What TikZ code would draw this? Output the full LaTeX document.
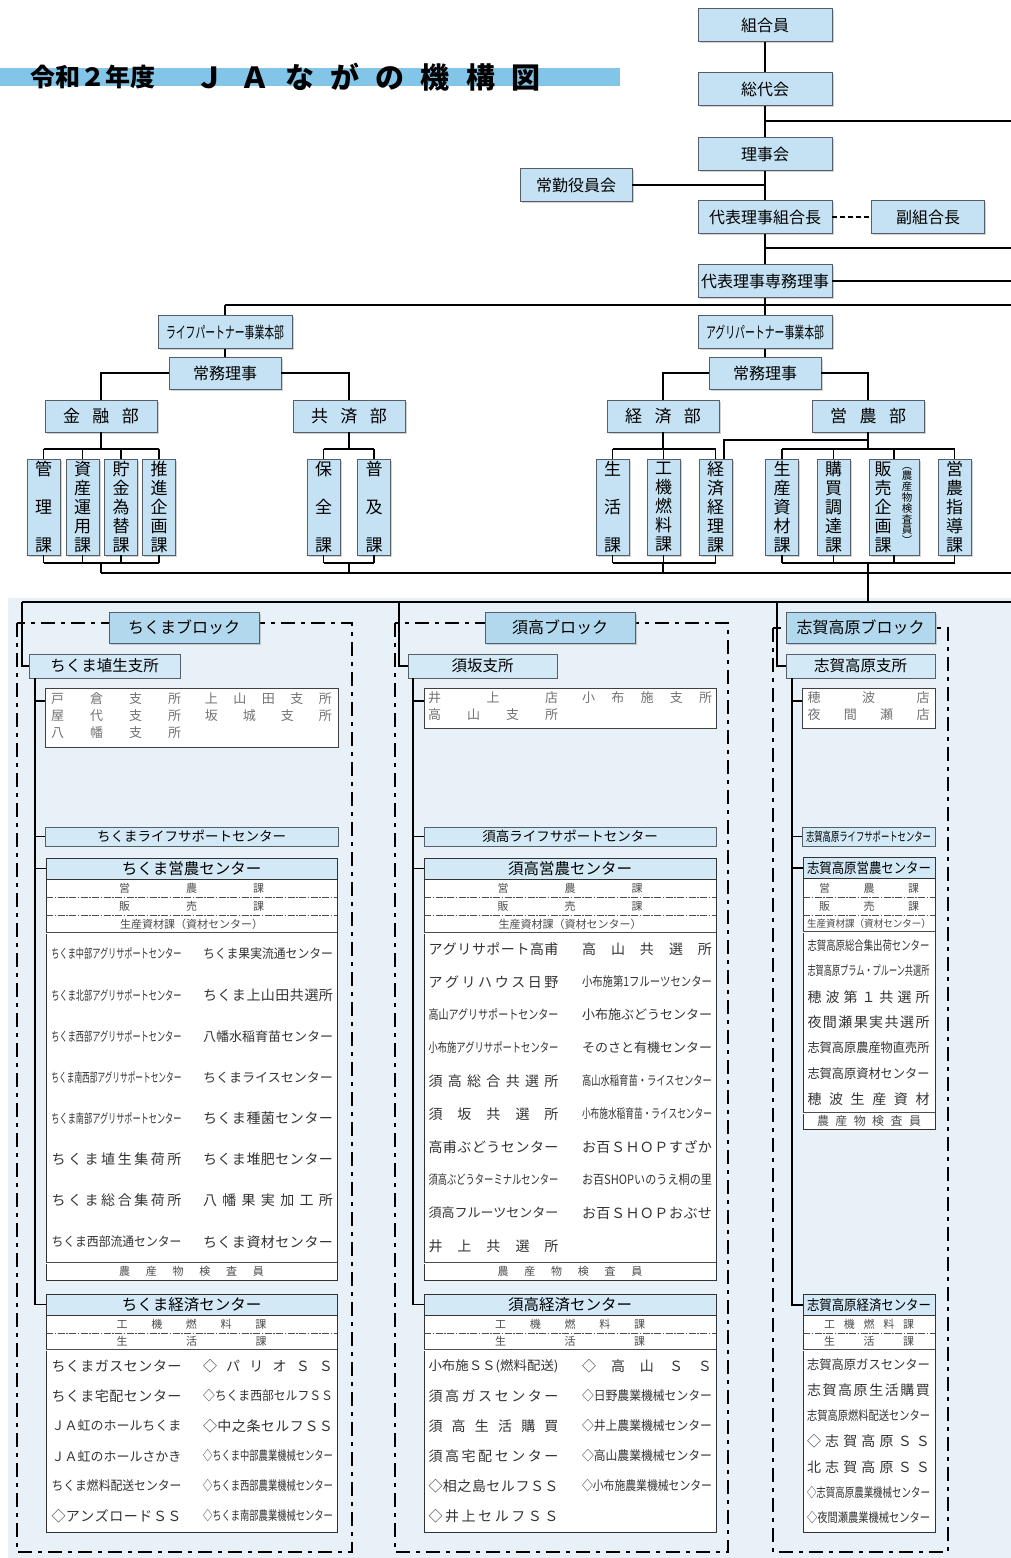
\documentclass[tikz,border=0pt]{standalone}
\usepackage{fontspec}
\setmainfont{Noto Sans CJK JP}
\usepackage{graphicx}
\usetikzlibrary{positioning,shadows}

\definecolor{boxblue}{RGB}{196,226,243}
\definecolor{tagblue}{RGB}{178,216,238}
\definecolor{paleblue}{RGB}{211,233,246}
\definecolor{bgblue}{RGB}{232,241,248}
\definecolor{bandblue}{RGB}{130,197,232}
\definecolor{edge}{RGB}{85,95,105}

% text set to a fixed width: spread out if short, squeezed if long
\makeatletter
\newsavebox\fitbox
\newcommand\fitw[3][0.92]{\edef\fit@txt{#3}\def\fit@v{#1}%
  \ifx\fit@txt\@empty\else\expandafter\fit@do\expandafter{\fit@txt}{#2}\fi}
\newcommand\fit@do[2]{\sbox\fitbox{#1}%
  \ifdim\wd\fitbox>#2pt\relax\resizebox{#2pt}{\fit@v\height}{#1}%
  \else\makebox[#2pt][s]{\fit@spread#1\@nil}\fi}
\def\fit@spread#1#2\@nil{#1\ifx\relax#2\relax\else\hfil\fit@spread#2\@nil\fi}
\makeatother

\tikzset{
  link/.style={line width=1.8pt},
  bar/.style={line width=2.6pt},
  topbox/.style={draw=edge,fill=boxblue,line width=.8pt,minimum width=134,minimum height=33,inner sep=0,
    font=\fontsize{16}{16}\selectfont,drop shadow={shadow xshift=1.5pt,shadow yshift=-1.5pt,opacity=.35}},
  bubox/.style={topbox,minimum width=112,minimum height=32,font=\fontsize{17}{17}\selectfont},
  kabox/.style={topbox,minimum width=33,minimum height=96,align=center,font=\fontsize{17}{19}\selectfont},
  kabox3/.style={kabox,font=\fontsize{17}{38}\selectfont},
  blk/.style={line width=2.2pt,dash pattern=on 14pt off 6pt on 4pt off 6pt},
  blocktag/.style={topbox,fill=tagblue,minimum width=150,minimum height=31},
  shisho/.style={draw=edge,fill=paleblue,line width=.8pt,minimum height=24,inner sep=0,font=\fontsize{15.5}{15.5}\selectfont},
  branch/.style={draw=black!75,fill=white,line width=1pt,inner sep=0,text=black!55,font=\fontsize{13}{17}\selectfont},
  life/.style={draw=edge,fill=paleblue,line width=.8pt,minimum height=19,inner sep=0,font=\fontsize{13.5}{13.5}\selectfont},
  centre/.style={draw=black!80,fill=white,line width=1pt,inner sep=0},
  chead/.style={draw=black!80,fill=paleblue,line width=1pt,minimum height=21,inner sep=0,font=\fontsize{15.5}{15.5}\selectfont},
  crow/.style={inner sep=0,text=black!70,font=\fontsize{11}{11}\selectfont},
  item/.style={inner sep=0,text=black!80,font=\fontsize{14}{14}\selectfont},
  sepa/.style={draw=black!70,line width=.8pt,dash pattern=on 7pt off 1.5pt on 1.5pt off 1.5pt},
  sepb/.style={draw=black!70,line width=.6pt,double=white,double distance=.9pt},
}

\begin{document}
\begin{tikzpicture}[x=1pt,y=-1pt]
\useasboundingbox (0,0) rectangle (1011,1558);
\fill[white] (0,0) rectangle (1011,1558);
\fill[bgblue] (8,598) rectangle (1011,1558); % block area
\coordinate (redge) at (1011,0);

% title
\fill[bandblue] (0,68) rectangle (620,86);
\node[anchor=west,inner sep=0,font=\fontsize{25}{25}\selectfont\bfseries] (titleA) at (30,77) {令和２年度};
\node[anchor=west,inner sep=0,font=\fontsize{29}{29}\selectfont\bfseries] (titleB) at (195,77) {\fitw[1]{345}{ＪＡながの機構図}};

% top of the chart
\node[topbox] (kumiai) at (765,25) {組合員};
\node[topbox] (sodai) at (765,89) {総代会};
\node[topbox] (rijikai) at (765,154) {理事会};
\node[topbox] (kumiaicho) at (765,217) {代表理事組合長};
\node[topbox] (senmu) at (765,281) {代表理事専務理事};
\node[topbox,minimum width=112] (jokin) at (576,185) {常勤役員会};
\node[topbox,minimum width=113] (fuku) at (928,217) {副組合長};

\coordinate (j1) at (765,121);
\coordinate (j2) at (765,248);
\draw[link] (kumiai) -- (sodai);
\draw[link] (sodai) -- (rijikai);
\draw[link] (rijikai) -- (kumiaicho);
\draw[link] (kumiaicho) -- (senmu);
\draw[bar] (j1) -- (j1 -| redge);
\draw[bar] (j2) -- (j2 -| redge);
\draw[bar] (jokin.east) -- (jokin.east -| rijikai.south);
\draw[line width=2pt,dash pattern=on 5pt off 3pt] (kumiaicho) -- (fuku);
\draw[bar] (senmu.east) -- (senmu.east -| redge);

% head offices
\node[topbox] (lifehq) at (225,332) {\fitw[1]{118}{ライフパートナー事業本部}};
\node[topbox] (agrihq) at (765,332) {\fitw[1]{118}{アグリパートナー事業本部}};
\node[topbox,minimum width=112,minimum height=32] (jomuL) at (225,373) {常務理事};
\node[topbox,minimum width=112,minimum height=32] (jomuR) at (765,373) {常務理事};
\coordinate (hqbar) at (225,305);
\draw[link] (senmu) -- (senmu.south |- hqbar);
\draw[bar] (hqbar) -- (hqbar -| redge);
\draw[link] (lifehq) -- (lifehq.north |- hqbar);
\draw[link] (lifehq) -- (jomuL);
\draw[link] (agrihq) -- (agrihq.north |- hqbar);
\draw[link] (agrihq) -- (jomuR);

% departments
\node[bubox] (kinyu) at (101,416) {\fitw{76}{金融部}};
\node[bubox] (kyosai) at (349,416) {\fitw{76}{共済部}};
\node[bubox] (keizaibu) at (663,416) {\fitw{76}{経済部}};
\node[bubox] (einobu) at (868,416) {\fitw{76}{営農部}};
\draw[bar] (jomuL.west) -| (kinyu);
\draw[bar] (jomuL.east) -| (kyosai);
\draw[bar] (jomuR.west) -| (keizaibu);
\draw[bar] (jomuR.east) -| (einobu);

% sections
\node[kabox3] (kanri) at (43.5,507) {管\\理\\課};
\node[kabox] (shisan) at (82.5,507) {資\\産\\運\\用\\課};
\node[kabox] (chokin) at (121,507) {貯\\金\\為\\替\\課};
\node[kabox] (suishin) at (159,507) {推\\進\\企\\画\\課};
\node[kabox3] (hozen) at (323.5,507) {保\\全\\課};
\node[kabox3] (fukyu) at (374,507) {普\\及\\課};
\node[kabox3] (seikatsu) at (612.5,507) {生\\活\\課};
\node[kabox] (kouki) at (663.5,507) {工\\機\\燃\\料\\課};
\node[kabox] (keiri) at (715.5,507) {経\\済\\経\\理\\課};
\node[kabox] (seisan) at (782,507) {生\\産\\資\\材\\課};
\node[kabox] (koubai) at (833.5,507) {購\\買\\調\\達\\課};
\node[kabox,minimum width=50] (hanbai) at (894,507) {};
\node[inner sep=0,align=center,font=\fontsize{17}{19}\selectfont] (hanbaiA) at (883,507) {販\\売\\企\\画\\課};
\node[inner sep=0,align=center,font=\fontsize{10.5}{10.8}\selectfont] (hanbaiB) at (907,506) {︵\\農\\産\\物\\検\\査\\員\\︶};
\node[kabox] (shidou) at (954.5,507) {営\\農\\指\\導\\課};

\coordinate (kinyuT) at (101,449);   \coordinate (kinyuB) at (101,563);
\coordinate (kyosaiT) at (349,449);  \coordinate (kyosaiB) at (349,563);
\coordinate (keizaiT) at (663,449);  \coordinate (keizaiB) at (663,563);
\coordinate (einoT) at (868,449);    \coordinate (einoB) at (868,563);
\coordinate (einoK) at (724,440);
\coordinate (lowbar) at (101,573);
\coordinate (barL) at (22,602);

\draw[link] (kinyu) -- (kinyuT);
\draw[link] (kyosai) -- (kyosaiT);
\draw[link] (keizaibu) -- (keizaiT);
\draw[link] (einobu) -- (einoT);
\draw[link] (einobu.south |- einoK) -- (einoK) -- (einoK |- keiri.north);
\foreach \k in {kanri,shisan,chokin,suishin} {\draw[link] (\k) -- (\k.north |- kinyuT); \draw[link] (\k) -- (\k.south |- kinyuB);}
\foreach \k in {hozen,fukyu} {\draw[link] (\k) -- (\k.north |- kyosaiT); \draw[link] (\k) -- (\k.south |- kyosaiB);}
\foreach \k in {seikatsu,kouki,keiri} {\draw[link] (\k) -- (\k.north |- keizaiT); \draw[link] (\k) -- (\k.south |- keizaiB);}
\foreach \k in {seisan,koubai,hanbai,shidou} {\draw[link] (\k) -- (\k.north |- einoT); \draw[link] (\k) -- (\k.south |- einoB);}
\draw[bar] (kanri.north |- kinyuT) -- (suishin.north |- kinyuT);
\draw[bar] (kanri.south |- kinyuB) -- (suishin.south |- kinyuB);
\draw[bar] (hozen.north |- kyosaiT) -- (fukyu.north |- kyosaiT);
\draw[bar] (hozen.south |- kyosaiB) -- (fukyu.south |- kyosaiB);
\draw[bar] (seikatsu.north |- keizaiT) -- (keiri.north |- keizaiT);
\draw[bar] (seikatsu.south |- keizaiB) -- (keiri.south |- keizaiB);
\draw[bar] (seisan.north |- einoT) -- (shidou.north |- einoT);
\draw[bar] (seisan.south |- einoB) -- (shidou.south |- einoB);
\draw[link] (kinyuB) -- (kinyuB |- lowbar);
\draw[link] (kyosaiB) -- (kyosaiB |- lowbar);
\draw[link] (keizaiB) -- (keizaiB |- lowbar);
\draw[bar] (lowbar) -- (lowbar -| redge);
\draw[link] (einoB) -- (einoB |- barL);
\draw[bar] (barL) -- (barL -| redge);

% ---------------- ちくまブロック
\draw[blk] (17,623) rectangle (352,1552);
\node[blocktag] (chikumaB) at (184,627.5) {ちくまブロック};
\node[shisho,minimum width=151] (hanishina) at (104.5,666) {ちくま埴生支所};
\node[branch,minimum width=293,minimum height=59] (branchL) at (191.5,717.5)
  {\begin{tabular}{@{}l@{\hspace{24pt}}l@{}}\fitw{130}{戸倉支所}&\fitw{127}{上山田支所}\\\fitw{130}{屋代支所}&\fitw{127}{坂城支所}\\\fitw{130}{八幡支所}&\end{tabular}};
\node[life,minimum width=293] (lifeL) at (191.5,836.5) {ちくまライフサポートセンター};
\node[centre,minimum width=291,minimum height=422] (einoL) at (191.5,1069) {};
\node[chead,minimum width=291] (einoLh) at (191.5,868.5) {ちくま営農センター};
\node[crow] (einoL1) at (191.5,888) {\fitw{145}{営農課}};
\node[crow] (einoL2) at (191.5,906) {\fitw{145}{販売課}};
\node[crow] (einoL3) at (191.5,924) {生産資材課（資材センター）};
\draw[sepa] (46,897) -- (337,897);
\draw[sepa] (46,915) -- (337,915);
\draw[sepb] (46,933) -- (337,933);
\foreach \nm [count=\i from 0] in {ちくま中部アグリサポートセンター,ちくま北部アグリサポートセンター,
  ちくま西部アグリサポートセンター,ちくま南西部アグリサポートセンター,ちくま南部アグリサポートセンター,
  ちくま埴生集荷所,ちくま総合集荷所,ちくま西部流通センター}
  {\node[item] (eLa\i) at (116.5,954+41.1*\i) {\fitw{130}{\nm}};}
\foreach \nm [count=\i from 0] in {ちくま果実流通センター,ちくま上山田共選所,八幡水稲育苗センター,
  ちくまライスセンター,ちくま種菌センター,ちくま堆肥センター,八幡果実加工所,ちくま資材センター}
  {\node[item] (eLb\i) at (268,954+41.1*\i) {\fitw{130}{\nm}};}
\draw[sepb] (46,1263) -- (337,1263);
\node[crow] (kensaL) at (191.5,1271.5) {\fitw{145}{農産物検査員}};
\node[centre,minimum width=291,minimum height=238] (keizaiL) at (191.5,1413) {};
\node[chead,minimum width=291] (keizaiLh) at (191.5,1304.5) {ちくま経済センター};
\node[crow] (keizaiL1) at (191.5,1324) {\fitw{150}{工機燃料課}};
\node[crow] (keizaiL2) at (191.5,1341.5) {\fitw{150}{生活課}};
\draw[sepa] (46,1333) -- (337,1333);
\draw[sepb] (46,1350) -- (337,1350);
\foreach \nm [count=\i from 0] in {ちくまガスセンター,ちくま宅配センター,ＪＡ虹のホールちくま,
  ＪＡ虹のホールさかき,ちくま燃料配送センター,◇アンズロードＳＳ}
  {\node[item] (kLa\i) at (116.5,1366+30*\i) {\fitw{130}{\nm}};}
\foreach \nm [count=\i from 0] in {◇パリオＳＳ,◇ちくま西部セルフＳＳ,◇中之条セルフＳＳ,
  ◇ちくま中部農業機械センター,◇ちくま西部農業機械センター,◇ちくま南部農業機械センター}
  {\node[item] (kLb\i) at (268,1366+30*\i) {\fitw{130}{\nm}};}
\coordinate (trunkL) at (35,678);
\coordinate (brjL) at ([yshift=16.5pt]branchL.west);
\draw[link] (hanishina.west) -| (barL);
\draw[link] (trunkL) |- (keizaiLh.west);
\draw[link] (brjL) -- (brjL -| trunkL);
\draw[link] (lifeL.west) -- (lifeL.west -| trunkL);
\draw[link] (einoLh.west) -- (einoLh.west -| trunkL);

% ---------------- 須高ブロック
\coordinate (barM) at (399,602);
\draw[blk] (395,623) rectangle (728,1552);
\node[blocktag] (sukoB) at (560,627.5) {須高ブロック};
\node[shisho,minimum width=149] (suzaka) at (482.5,666) {須坂支所};
\node[branch,minimum width=292,minimum height=40] (branchM) at (570,708)
  {\begin{tabular}{@{}l@{\hspace{24pt}}l@{}}\fitw{130}{井上店}&\fitw{130}{小布施支所}\\\fitw{130}{高山支所}&\end{tabular}};
\node[life,minimum width=292] (lifeM) at (570,836.5) {須高ライフサポートセンター};
\node[centre,minimum width=292,minimum height=422] (einoM) at (570,1069) {};
\node[chead,minimum width=292] (einoMh) at (570,868.5) {須高営農センター};
\node[crow] (einoM1) at (570,888) {\fitw{145}{営農課}};
\node[crow] (einoM2) at (570,906) {\fitw{145}{販売課}};
\node[crow] (einoM3) at (570,924) {生産資材課（資材センター）};
\draw[sepa] (424,897) -- (716,897);
\draw[sepa] (424,915) -- (716,915);
\draw[sepb] (424,933) -- (716,933);
\foreach \nm [count=\i from 0] in {アグリサポート高甫,アグリハウス日野,高山アグリサポートセンター,
  小布施アグリサポートセンター,須高総合共選所,須坂共選所,高甫ぶどうセンター,
  須高ぶどうターミナルセンター,須高フルーツセンター,井上共選所}
  {\node[item] (eMa\i) at (493.5,949+33*\i) {\fitw{130}{\nm}};}
\foreach \nm [count=\i from 0] in {高山共選所,小布施第1フルーツセンター,小布施ぶどうセンター,
  そのさと有機センター,高山水稲育苗・ライスセンター,小布施水稲育苗・ライスセンター,
  お百ＳＨＯＰすざか,お百SHOPいのうえ桐の里,お百ＳＨＯＰおぶせ}
  {\node[item] (eMb\i) at (647,949+33*\i) {\fitw{130}{\nm}};}
\draw[sepb] (424,1263) -- (716,1263);
\node[crow] (kensaM) at (570,1271.5) {\fitw{145}{農産物検査員}};
\node[centre,minimum width=292,minimum height=238] (keizaiM) at (570,1413) {};
\node[chead,minimum width=292] (keizaiMh) at (570,1304.5) {須高経済センター};
\node[crow] (keizaiM1) at (570,1324) {\fitw{150}{工機燃料課}};
\node[crow] (keizaiM2) at (570,1341.5) {\fitw{150}{生活課}};
\draw[sepa] (424,1333) -- (716,1333);
\draw[sepb] (424,1350) -- (716,1350);
\foreach \nm [count=\i from 0] in {小布施ＳＳ(燃料配送),須高ガスセンター,須高生活購買,
  須高宅配センター,◇相之島セルフＳＳ,◇井上セルフＳＳ}
  {\node[item] (kMa\i) at (493.5,1366+30*\i) {\fitw{130}{\nm}};}
\foreach \nm [count=\i from 0] in {◇高山ＳＳ,◇日野農業機械センター,◇井上農業機械センター,
  ◇高山農業機械センター,◇小布施農業機械センター}
  {\node[item] (kMb\i) at (647,1366+30*\i) {\fitw{130}{\nm}};}
\coordinate (trunkM) at (413,678);
\coordinate (brjM) at ([yshift=7pt]branchM.west);
\draw[link] (suzaka.west) -| (barM);
\draw[link] (trunkM) |- (keizaiMh.west);
\draw[link] (brjM) -- (brjM -| trunkM);
\draw[link] (lifeM.west) -- (lifeM.west -| trunkM);
\draw[link] (einoMh.west) -- (einoMh.west -| trunkM);

% ---------------- 志賀高原ブロック
\coordinate (barR) at (777,602);
\draw[blk] (773,628) rectangle (948,1552);
\node[blocktag,minimum width=149] (shigaB) at (860.5,627.5) {志賀高原ブロック};
\node[shisho,minimum width=149] (shiga) at (860.5,666) {志賀高原支所};
\node[branch,minimum width=133,minimum height=40] (branchR) at (868.5,708)
  {\begin{tabular}{@{}l@{}}\fitw{122}{穂波店}\\\fitw{122}{夜間瀬店}\end{tabular}};
\node[life,minimum width=133] (lifeR) at (868.5,836.5) {\fitw{125}{志賀高原ライフサポートセンター}};
\node[centre,minimum width=132,minimum height=272] (einoR) at (869,993) {};
\node[chead,minimum width=132] (einoRh) at (869,868) {\fitw{124}{志賀高原営農センター}};
\node[crow] (einoR1) at (869,888) {\fitw{100}{営農課}};
\node[crow] (einoR2) at (869,906) {\fitw{100}{販売課}};
\node[crow] (einoR3) at (869,923.5) {\fitw{124}{生産資材課（資材センター）}};
\draw[sepa] (803,897) -- (935,897);
\draw[sepa] (803,915) -- (935,915);
\draw[sepb] (803,932) -- (935,932);
\foreach \nm [count=\i from 0] in {志賀高原総合集出荷センター,志賀高原プラム・プルーン共選所,
  穂波第１共選所,夜間瀬果実共選所,志賀高原農産物直売所,志賀高原資材センター,穂波生産資材}
  {\node[item] (eRa\i) at (868.5,945.5+25.6*\i) {\fitw{122}{\nm}};}
\draw[sepb] (803,1113) -- (935,1113);
\node[crow,font=\fontsize{12}{12}\selectfont] (kensaR) at (869,1121) {\fitw{104}{農産物検査員}};
\node[centre,minimum width=132,minimum height=238] (keizaiR) at (869,1413) {};
\node[chead,minimum width=132] (keizaiRh) at (869,1305) {\fitw{124}{志賀高原経済センター}};
\node[crow] (keizaiR1) at (869,1324) {\fitw{90}{工機燃料課}};
\node[crow] (keizaiR2) at (869,1341.5) {\fitw{90}{生活課}};
\draw[sepa] (803,1333) -- (935,1333);
\draw[sepb] (803,1350) -- (935,1350);
\foreach \nm [count=\i from 0] in {志賀高原ガスセンター,志賀高原生活購買,志賀高原燃料配送センター,
  ◇志賀高原ＳＳ,北志賀高原ＳＳ,◇志賀高原農業機械センター,◇夜間瀬農業機械センター}
  {\node[item] (kRa\i) at (868.5,1365+25.5*\i) {\fitw{123}{\nm}};}
\coordinate (trunkR) at (792,678);
\coordinate (brjR) at ([yshift=7pt]branchR.west);
\draw[link] (shiga.west) -| (barR);
\draw[link] (trunkR) |- (keizaiRh.west);
\draw[link] (brjR) -- (brjR -| trunkR);
\draw[link] (lifeR.west) -- (lifeR.west -| trunkR);
\draw[link] (einoRh.west) -- (einoRh.west -| trunkR);
\end{tikzpicture}
\end{document}
